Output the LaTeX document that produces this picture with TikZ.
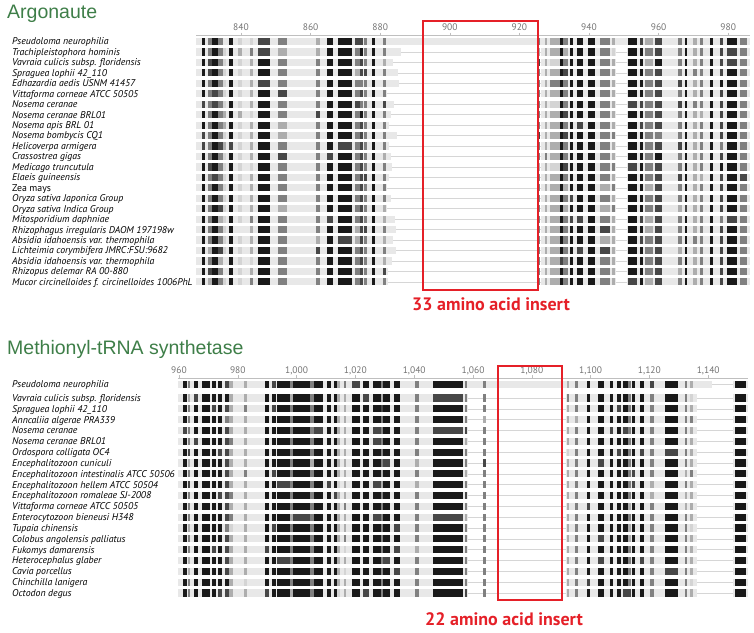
\documentclass[tikz,border=0pt]{standalone}
\usepackage{fontspec}
\setmainfont{PT Sans}
\newfontfamily\titlefont{Liberation Sans}
\definecolor{titlegreen}{RGB}{62,126,72}
\definecolor{insred}{RGB}{229,32,40}
\colorlet{lv0}{black!9}
\colorlet{lv1}{black!17}
\colorlet{lv2}{black!32}
\colorlet{lv3}{black!50}
\colorlet{lv4}{black!72}
\colorlet{lv5}{black!90}

\begin{document}
\begin{tikzpicture}[x=1pt, y=-1pt,
		species/.style={anchor=base west, inner sep=0pt, font=\fontsize{9.8}{11}\selectfont\itshape},
		ticklbl/.style={inner sep=0pt, text=black!55, font=\fontsize{9.5}{11}\selectfont},
		paneltitle/.style={anchor=base west, inner sep=0pt, text=titlegreen, font=\titlefont\fontsize{19.5}{22}\selectfont},
		insbox/.style={draw=insred, line width=2pt},
		inslbl/.style={anchor=west, inner sep=0pt, text=insred, font=\bfseries\fontsize{18}{20}\selectfont},
		axisline/.style={draw=black!25, line width=0.6pt},
		gapline/.style={draw=black!16, line width=0.6pt}]
	\useasboundingbox (0,0) rectangle (754,632);
	\pgfmathsetseed{12}
	%Argonaute
	\node[paneltitle] (argo) at (7,18.5) {Argonaute};
	\draw[axisline] (196,35.5) -- (750,35.5);
	\foreach \n [count=\i from 0] in {840,860,...,980} {
		\pgfmathsetmacro\xx{241+69.6*\i}
		\draw[axisline] (\xx,32.5) -- (\xx,35.5);
		\node[ticklbl] (tA\i) at (\xx,27.5) {\n};
	}
	\foreach \sp [count=\r from 0] in {Pseudoloma neurophilia, Trachipleistophora hominis,
		Vavraia culicis subsp. floridensis, Spraguea lophii 42\_110, Edhazardia aedis USNM 41457,
		Vittaforma corneae ATCC 50505, Nosema ceranae, Nosema ceranae BRL01, Nosema apis BRL 01,
		Nosema bombycis CQ1, Helicoverpa armigera, Crassostrea gigas, Medicago truncutula,
		Elaeis guineensis, \upshape Zea mays, Oryza sativa Japonica Group, Oryza sativa Indica Group,
		Mitosporidium daphniae, Rhizophagus irregularis DAOM 197198w, Absidia idahoensis var. thermophila,
		Lichteimia corymbifera JMRC:FSU:9682, Absidia idahoensis var. thermophila,
		Rhizopus delemar RA 00-880, Mucor circinelloides f. circinelloides 1006PhL} {
		\pgfmathsetmacro\yy{41.5+10.45*\r}
		\node[species] (sA\r) at (12,\yy+3.4) {\sp};
		\draw[gapline] (196,\yy) -- (750,\yy);
		\ifnum\r=0
			\fill[lv0] (196,\yy-3.6) rectangle (750,\yy+3.6);
		\else
			\pgfmathsetmacro\ee{386+16*rnd}
			\fill[lv0] (196,\yy-3.6) rectangle (\ee,\yy+3.6);
			\fill[lv0] (541,\yy-3.6) rectangle (616,\yy+3.6);
			\fill[lv0] (627,\yy-3.6) rectangle (750,\yy+3.6);
		\fi
		% Spalten
		\foreach \a/\b/\l in {202/205/5, 208/212/3, 212/218/5, 218/223/3, 223/226/1, 229/233/5,
			238/242/1, 250/253/2, 258/270/5, 278/287/3, 316/320/3, 327/333/5, 338/352/5, 355/360/3,
			360/363/4, 364/367/3, 372/375/5, 383/386/3, 537/540/3, 545/547/2, 550/560/2, 560/563/5,
			563/568/3, 570/573/5, 577/583/5, 588/595/5, 600/610/3, 612/615/2, 628/637/5, 640/643/5,
			645/653/3, 655/662/4, 678/682/3, 685/687/5, 693/697/2, 700/703/3, 710/713/5, 720/723/4,
			727/737/5, 740/747/3} {
			\pgfmathsetmacro\u{rnd}
			\pgfmathtruncatemacro\lv{\u<0.1 ? max(\l-1,0) : (\u>0.93 ? min(\l+1,5) : \l)}
			\fill[lv\lv] (\a,\yy-3.6) rectangle (\b,\yy+3.6);
		}
	}
	\draw[insbox] (423,20.5) rectangle (538,290);
	\node[inslbl] (ins33) at (412,304) {33 amino acid insert};
	%Methionyl-tRNA synthetase
	\node[paneltitle] (metrs) at (7,354) {Methionyl-tRNA synthetase};
	\draw[axisline] (178,378) -- (748,378);
	\foreach \n [count=\i from 0] in {960,980,{1,000},{1,020},{1,040},{1,060},{1,080},{1,100},{1,120},{1,140}} {
		\pgfmathsetmacro\xx{179+58.8*\i}
		\draw[axisline] (\xx,375) -- (\xx,378);
		\node[ticklbl] (tM\i) at (\xx,370.5) {\n};
	}
	\foreach \sp [count=\r from 0] in {Pseudoloma neurophilia, Vavraia culicis subsp. floridensis,
		Spraguea lophii 42\_110, Anncaliia algerae PRA339, Nosema ceranae, Nosema ceranae BRL01,
		Ordospora colligata OC4, Encephalitozoon cuniculi, Encephalitozoon intestinalis ATCC 50506,
		Encephalitozoon hellem ATCC 50504, Encephalitozoon romaleae SJ-2008, Vittaforma corneae ATCC 50505,
		Enterocytozoon bieneusi H348, Tupaia chinensis, Colobus angolensis palliatus, Fukomys damarensis,
		Heterocephalus glaber, Cavia porcellus, Chinchilla lanigera, Octodon degus} {
		\pgfmathsetmacro\yy{\r==0 ? 384.5 : 398+10.83*(\r-1)}
		\node[species] (sM\r) at (12,\yy+3.4) {\sp};
		\draw[gapline] (178,\yy) -- (748,\yy);
		\ifnum\r=0
			\fill[lv0] (178,\yy-3.6) rectangle (712,\yy+3.6);
		\else
			\fill[lv0] (178,\yy-3.6) rectangle (468,\yy+3.6);
			\fill[lv0] (566,\yy-3.6) rectangle (697,\yy+3.6);
		\fi
		\fill[lv0] (733,\yy-3.6) rectangle (748,\yy+3.6);
		% Spalten
		\foreach \a/\b/\l in {183/187/5, 188/190/3, 194/198/5, 202/210/5, 212/216/5, 218/222/5,
			225/229/4, 229/233/2, 244/247/2, 265/269/5, 272/276/5, 277/290/5, 290/293/3, 293/310/5,
			310/314/3, 314/323/5, 327/331/5, 334/337/5, 337/340/2, 344/346/2, 352/360/5, 363/369/5,
			373/381/5, 381/383/3, 383/390/5, 394/400/5, 415/419/3, 433/463/5, 465/467/3, 483/486/3,
			567/569/2, 575/578/3, 587/590/5, 598/604/5, 610/613/5, 617/621/5, 623/628/5, 628/631/3,
			632/635/5, 640/644/5, 650/654/3, 665/678/5, 685/687/3, 690/693/2, 735/746/5} {
			\pgfmathsetmacro\u{rnd}
			\pgfmathtruncatemacro\lv{\u<0.1 ? max(\l-1,0) : (\u>0.93 ? min(\l+1,5) : \l)}
			\fill[lv\lv] (\a,\yy-3.6) rectangle (\b,\yy+3.6);
		}
	}
	\draw[insbox] (498,366) rectangle (562,600);
	\node[inslbl] (ins22) at (425,619) {22 amino acid insert};
\end{tikzpicture}
\end{document}
